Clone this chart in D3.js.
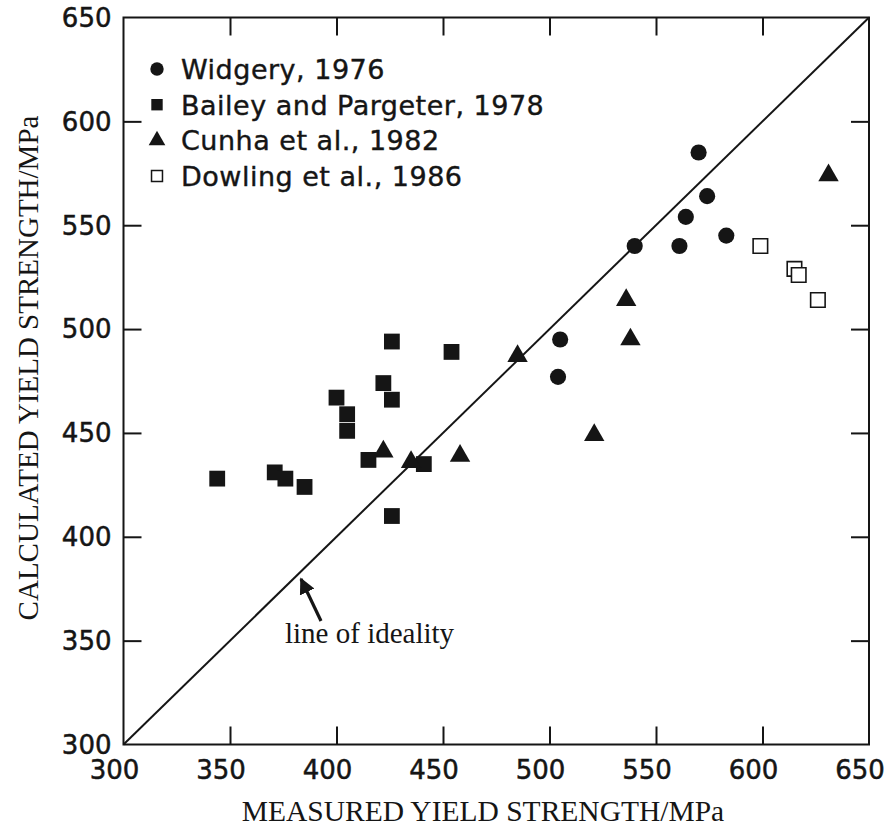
<!DOCTYPE html>
<html>
<head>
<meta charset="utf-8">
<script src="https://cdn.jsdelivr.net/npm/d3@7"></script>
<style>
  html, body { margin: 0; padding: 0; background: #fff; }
  svg { display: block; }
</style>
</head>
<body>
<svg id="chart" width="890" height="832"></svg>
<script>
// ---- data (measured MPa, calculated MPa) ----
const widgeryX = [570, 574, 564, 540, 561, 583, 505, 504];
const widgeryY = [585, 564, 554, 540, 540, 545, 495, 477];

const baileyX = [344, 371, 376, 385, 400, 405, 405, 415, 422, 426, 426, 426, 441, 454];
const baileyY = [428, 431, 428, 424, 467, 459, 451, 437, 474, 494, 466, 410, 435, 489];

const cunhaX = [422, 435, 458, 485, 521, 536, 538, 631];
const cunhaY = [441, 436, 439, 487, 449, 514, 495, 574];

const dowlingX = [599, 615, 617, 626];
const dowlingY = [540, 529, 526, 514];

const tickValues = [300, 350, 400, 450, 500, 550, 600, 650];
const legendLabels = ["Widgery, 1976", "Bailey and Pargeter, 1978", "Cunha et al., 1982", "Dowling et al., 1986"];
const xTitle = "MEASURED YIELD STRENGTH/MPa";
const yTitle = "CALCULATED YIELD STRENGTH/MPa";
const noteText = "line of ideality";

// ---- layout ----
const svg = d3.select("#chart");
const L = 123.5, R = 869, T = 17.5, B = 744.5;
const x = d3.scaleLinear().domain([300, 650]).range([L, R]);
const y = d3.scaleLinear().domain([300, 650]).range([B, T]);
const ink = "#151515";
const sans = "'DejaVu Sans', sans-serif";
const serif = "'Liberation Serif', 'Times New Roman', serif";
const tickLen = 18;

// frame
svg.append("rect").attr("x", L).attr("y", T).attr("width", R - L).attr("height", B - T)
  .attr("fill", "none").attr("stroke", ink).attr("stroke-width", 2);

// axes with inward ticks
const inner = tickValues.slice(1, -1);
function styleAxis(g) {
  g.select(".domain").remove();
  g.selectAll(".tick line").attr("stroke", ink).attr("stroke-width", 2);
  g.selectAll(".tick text").remove();
}
svg.append("g").attr("transform", `translate(0,${B})`)
  .call(d3.axisBottom(x).tickValues(inner).tickSizeInner(-tickLen).tickSizeOuter(0)).call(styleAxis);
svg.append("g").attr("transform", `translate(0,${T})`)
  .call(d3.axisTop(x).tickValues(inner).tickSizeInner(-tickLen).tickSizeOuter(0)).call(styleAxis);
svg.append("g").attr("transform", `translate(${L},0)`)
  .call(d3.axisLeft(y).tickValues(inner).tickSizeInner(-tickLen).tickSizeOuter(0)).call(styleAxis);
svg.append("g").attr("transform", `translate(${R},0)`)
  .call(d3.axisRight(y).tickValues(inner).tickSizeInner(-tickLen).tickSizeOuter(0)).call(styleAxis);

// tick labels
svg.append("g").selectAll("text").data(tickValues).join("text")
  .attr("x", d => x(d) - 9).attr("y", 779)
  .attr("text-anchor", "middle")
  .attr("font-family", sans).attr("font-size", 26).attr("fill", ink)
  .attr("stroke", ink).attr("stroke-width", 0.5)
  .text(d => d);
svg.append("g").selectAll("text").data(tickValues).join("text")
  .attr("x", 111.5).attr("y", d => y(d)).attr("dy", "0.36em")
  .attr("text-anchor", "end")
  .attr("font-family", sans).attr("font-size", 26).attr("fill", ink)
  .attr("stroke", ink).attr("stroke-width", 0.5)
  .text(d => d);

// axis titles
svg.append("text").attr("x", 483).attr("y", 821)
  .attr("text-anchor", "middle").attr("font-family", serif).attr("font-size", 29.5).attr("fill", ink)
  .text(xTitle);
svg.append("text").attr("transform", `translate(38,368) rotate(-90)`)
  .attr("text-anchor", "middle").attr("font-family", serif).attr("font-size", 29).attr("fill", ink)
  .text(yTitle);

// line of ideality
svg.append("line").attr("x1", x(300)).attr("y1", y(300)).attr("x2", x(650)).attr("y2", y(650))
  .attr("stroke", ink).attr("stroke-width", 2);

// annotation arrow
svg.append("defs").append("marker").attr("id", "ah").attr("viewBox", "0 0 10 10")
  .attr("refX", 9).attr("refY", 5).attr("markerWidth", 5).attr("markerHeight", 5)
  .attr("markerUnits", "strokeWidth").attr("orient", "auto")
  .append("path").attr("d", "M0,0L10,5L0,10z").attr("fill", ink);
svg.append("line").attr("x1", 321).attr("y1", 621).attr("x2", 301).attr("y2", 579)
  .attr("stroke", ink).attr("stroke-width", 3.2).attr("marker-end", "url(#ah)");
svg.append("text").attr("x", 285).attr("y", 643)
  .attr("font-family", serif).attr("font-size", 29).attr("fill", ink).text(noteText);

// markers
const sym = {
  circle: d3.symbol().type(d3.symbolCircle).size(205),
  square: d3.symbol().type(d3.symbolSquare).size(250),
  triangle: d3.symbol().type(d3.symbolTriangle).size(180),
  open: d3.symbol().type(d3.symbolSquare).size(210)
};
function plot(xs, ys, path, fill, stroke) {
  svg.append("g").selectAll("path").data(xs.map((v, i) => [v, ys[i]])).join("path")
    .attr("transform", d => `translate(${x(d[0])},${y(d[1])})`)
    .attr("d", path())
    .attr("fill", fill).attr("stroke", stroke || "none").attr("stroke-width", 1.6);
}
plot(baileyX, baileyY, sym.square, ink);
plot(widgeryX, widgeryY, sym.circle, ink);
plot(cunhaX, cunhaY, sym.triangle, ink);
plot(dowlingX, dowlingY, sym.open, "#fff", ink);

// legend
const legendSyms = [
  d3.symbol().type(d3.symbolCircle).size(140),
  d3.symbol().type(d3.symbolSquare).size(130),
  d3.symbol().type(d3.symbolTriangle).size(120),
  d3.symbol().type(d3.symbolSquare).size(120)
];
const lg = svg.append("g");
legendLabels.forEach((lab, i) => {
  const cy = 69 + i * 35.7;
  lg.append("path").attr("transform", `translate(157,${cy})`).attr("d", legendSyms[i]())
    .attr("fill", i === 3 ? "#fff" : ink).attr("stroke", i === 3 ? ink : "none").attr("stroke-width", 1.5);
  lg.append("text").attr("x", 181).attr("y", cy + 10)
    .attr("font-family", sans).attr("font-size", 27).attr("letter-spacing", 0.5).attr("fill", ink)
    .attr("stroke", ink).attr("stroke-width", 0.4)
    .text(lab);
});
</script>
</body>
</html>
